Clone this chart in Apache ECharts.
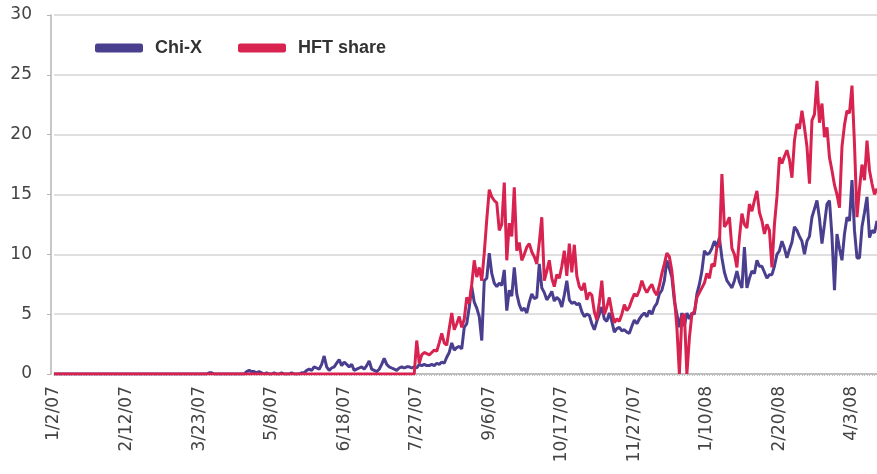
<!DOCTYPE html>
<html>
<head>
<meta charset="utf-8">
<script src="https://cdn.jsdelivr.net/npm/echarts@6/dist/echarts.min.js"></script>
<style>
  html, body { margin: 0; padding: 0; background: #fff; }
  #chart { width: 877px; height: 474px; }
</style>
</head>
<body>
<div id="chart"></div>
<script>
// trading days (European calendar), first day 1/2/07, 330 sessions
const firstDay = "2007-01-02";
const dayCount = 330;
const holidays = ["2007-04-06", "2007-04-09", "2007-05-01", "2007-12-25", "2007-12-26",
  "2008-01-01", "2008-03-21", "2008-03-24"];

// Chi-X share, %
const chiX = [
  0, 0, 0, 0, 0, 0, 0, 0, 0, 0,
  0, 0, 0, 0, 0, 0, 0, 0, 0, 0,
  0, 0, 0, 0, 0, 0, 0, 0, 0, 0,
  0, 0, 0, 0, 0, 0, 0, 0, 0, 0,
  0, 0, 0, 0, 0, 0, 0, 0, 0, 0,
  0, 0, 0, 0, 0, 0, 0, 0, 0, 0,
  0, 0, 0.1, 0.1, 0, 0, 0, 0, 0, 0,
  0, 0, 0, 0, 0, 0, 0, 0.2, 0.3, 0.2,
  0.2, 0.1, 0.2, 0.1, 0, 0.1, 0, 0, 0.1, 0,
  0, 0.1, 0, 0, 0, 0.1, 0, 0, 0, 0.1,
  0.1, 0.3, 0.4, 0.3, 0.6, 0.5, 0.4, 0.8, 1.5, 0.6,
  0.3, 0.5, 0.6, 0.9, 1.2, 0.7, 1.0, 0.8, 0.6, 0.8,
  0.3, 0.4, 0.5, 0.6, 0.4, 0.7, 1.1, 0.4, 0.3, 0.2,
  0.4, 0.8, 1.3, 0.8, 0.6, 0.5, 0.4, 0.3, 0.5, 0.6,
  0.5, 0.6, 0.6, 0.5, 0.6, 0.5, 0.8, 0.7, 0.8, 0.7,
  0.7, 0.8, 0.7, 0.9, 0.8, 1.0, 0.9, 1.4, 1.8, 2.6,
  2.0, 2.2, 2.3, 2.1, 3.9, 4.2, 5.6, 7.3, 6.0, 5.5,
  4.8, 2.8, 7.8, 8.0, 10.1, 8.4, 7.6, 7.3, 7.6, 7.4,
  8.7, 5.3, 7.0, 6.5, 8.9, 6.7, 5.8, 5.3, 5.5, 5.1,
  6.0, 6.7, 6.3, 6.4, 9.2, 7.2, 6.8, 6.2, 6.5, 6.9,
  6.1, 6.4, 6.2, 5.6, 6.6, 7.8, 6.2, 5.9, 6.0, 5.8,
  5.9, 5.2, 4.8, 5.0, 4.9, 4.2, 3.7, 4.4, 5.0, 5.6,
  4.6, 4.4, 5.1, 4.4, 3.5, 3.8, 3.9, 3.6, 3.7, 3.5,
  3.4, 4.0, 4.5, 4.2, 4.6, 4.9, 5.1, 4.8, 5.3, 5.0,
  5.6, 5.9, 6.7, 7.0, 7.8, 9.5, 8.8, 8.1, 6.1, 5.0,
  3.9, 5.1, 4.0, 5.1, 4.6, 5.1, 5.0, 6.7, 7.5, 8.6,
  10.3, 10.0, 10.1, 10.5, 11.1, 10.6, 11.4, 9.7, 8.5, 7.8,
  7.5, 7.2, 7.8, 8.6, 7.7, 7.2, 10.6, 7.2, 8.0, 8.6,
  8.4, 9.5, 9.0, 9.0, 8.5, 8.0, 8.3, 8.3, 9.0, 10.0,
  10.3, 11.1, 10.5, 9.7, 10.4, 11.0, 12.3, 12.0, 11.5, 11.1,
  10.0, 11.1, 11.5, 13.1, 13.8, 14.5, 13.0, 10.9, 12.5, 14.2,
  14.5, 11.5, 7.0, 11.7, 10.5, 9.5, 11.7, 13.1, 12.8, 16.2,
  12.0, 9.7, 9.7, 12.3, 13.5, 14.8, 11.4, 12.0, 11.8, 12.8
];

// HFT share, %
const hftShare = [
  0, 0, 0, 0, 0, 0, 0, 0, 0, 0,
  0, 0, 0, 0, 0, 0, 0, 0, 0, 0,
  0, 0, 0, 0, 0, 0, 0, 0, 0, 0,
  0, 0, 0, 0, 0, 0, 0, 0, 0, 0,
  0, 0, 0, 0, 0, 0, 0, 0, 0, 0,
  0, 0, 0, 0, 0, 0, 0, 0, 0, 0,
  0, 0, 0, 0, 0, 0, 0, 0, 0, 0,
  0, 0, 0, 0, 0, 0, 0, 0, 0, 0,
  0, 0, 0, 0, 0, 0, 0, 0, 0, 0,
  0, 0, 0, 0, 0, 0, 0, 0, 0, 0,
  0, 0, 0, 0, 0, 0, 0, 0, 0, 0,
  0, 0, 0, 0, 0, 0, 0, 0, 0, 0,
  0, 0, 0, 0, 0, 0, 0, 0, 0, 0,
  0, 0, 0, 0, 0, 0, 0, 0, 0, 0,
  0, 0, 0, 0, 0, 2.8, 0.9, 1.6, 1.8, 1.7,
  1.6, 1.8, 2.0, 1.9, 2.6, 3.4, 2.6, 2.4, 3.8, 5.1,
  3.7, 4.2, 4.8, 3.9, 4.6, 6.4, 5.9, 7.5, 9.5, 8.1,
  8.9, 7.8, 10.1, 12.9, 15.4, 14.8, 14.5, 14.3, 12.0, 12.5,
  16.0, 9.5, 12.6, 11.5, 15.6, 10.3, 11.0, 9.5, 10.0, 10.6,
  10.9, 10.2, 9.8, 9.2, 11.0, 13.1, 7.8, 8.6, 9.5, 8.0,
  7.3, 8.3, 8.0, 9.0, 10.3, 8.2, 10.9, 8.5, 10.8, 8.2,
  7.3, 7.0, 7.6, 6.2, 6.8, 6.6, 5.2, 4.5, 6.0, 7.8,
  5.0, 5.6, 6.4, 5.2, 4.3, 4.6, 4.4, 5.0, 5.8, 5.3,
  5.6, 6.2, 6.7, 6.5, 7.0, 7.8, 7.2, 6.8, 7.2, 7.5,
  6.9, 6.6, 7.4, 8.4, 9.2, 10.1, 9.8, 8.6, 6.4, 3.9,
  0, 4.8, 5.0, 0, 3.0, 5.0, 5.2, 6.4, 6.8, 7.2,
  7.6, 8.4, 8.0, 9.2, 9.0, 10.6, 10.8, 16.7, 12.3, 12.6,
  13.1, 10.5, 10.0, 8.9, 11.4, 13.4, 12.5, 12.2, 14.2, 13.6,
  14.5, 15.3, 13.5, 12.8, 11.7, 12.5, 12.0, 8.9, 12.5, 14.8,
  18.1, 17.6, 18.2, 18.7, 17.9, 16.4, 19.5, 20.9, 20.5, 22.0,
  20.6, 19.0, 15.9, 21.2, 21.7, 24.5, 21.0, 22.6, 19.8, 20.6,
  18.1, 17.0, 15.8, 15.0, 13.9, 19.0, 20.8, 22.0, 21.8, 24.1,
  19.2, 13.1, 15.5, 17.5, 16.2, 19.5, 17.0, 15.9, 15.0, 15.5
];

function tradingDays(start, n) {
  const out = [];
  const d = new Date(start + "T00:00:00Z");
  while (out.length < n) {
    const iso = d.toISOString().slice(0, 10);
    const wd = d.getUTCDay();
    if (wd !== 0 && wd !== 6 && holidays.indexOf(iso) < 0) {
      out.push((d.getUTCMonth() + 1) + "/" + d.getUTCDate() + "/" + String(d.getUTCFullYear()).slice(2));
    }
    d.setUTCDate(d.getUTCDate() + 1);
  }
  return out;
}
const dates = tradingDays(firstDay, dayCount);

const chart = echarts.init(document.getElementById("chart"));
const font = "DejaVu Sans";
chart.setOption({
  animation: false,
  backgroundColor: "#fff",
  grid: { left: 54, right: 0, top: 15, bottom: 100 },
  legend: {
    left: 95,
    top: 39,
    padding: 0,
    icon: "roundRect",
    itemWidth: 48,
    itemHeight: 9,
    itemGap: 36,
    textStyle: {
      fontFamily: "Liberation Sans", fontSize: 18, fontWeight: "bold",
      color: "#333", padding: [0, 0, 0, 7]
    },
    data: ["Chi-X", "HFT share"]
  },
  xAxis: {
    type: "category",
    data: dates,
    boundaryGap: false,
    axisLine: { lineStyle: { color: "#b4b4b4", width: 1.5 } },
    axisTick: { show: true, interval: 0, length: 2, lineStyle: { color: "#c0c0c0" } },
    axisLabel: {
      interval: 28,
      rotate: 90,
      margin: 12,
      fontFamily: font,
      fontSize: 17,
      color: "#444"
    },
    splitLine: { show: false }
  },
  yAxis: {
    type: "value",
    min: 0,
    max: 30,
    interval: 5,
    offset: 3,
    axisLine: { show: true, lineStyle: { color: "#b4b4b4", width: 1.5 } },
    axisTick: { show: true, length: 4, lineStyle: { color: "#b4b4b4" } },
    axisLabel: { fontFamily: font, fontSize: 17, color: "#444", margin: 19 },
    splitLine: { lineStyle: { color: "#d4d4d4", width: 1.5 } }
  },
  series: [
    {
      name: "Chi-X",
      type: "line",
      data: chiX,
      symbol: "none",
      color: "#4a3f8e",
      lineStyle: { width: 3, color: "#4a3f8e" },
      emphasis: { disabled: true }
    },
    {
      name: "HFT share",
      type: "line",
      data: hftShare,
      symbol: "none",
      color: "#d8224f",
      lineStyle: { width: 3, color: "#d8224f" },
      emphasis: { disabled: true }
    }
  ]
});
</script>
</body>
</html>
